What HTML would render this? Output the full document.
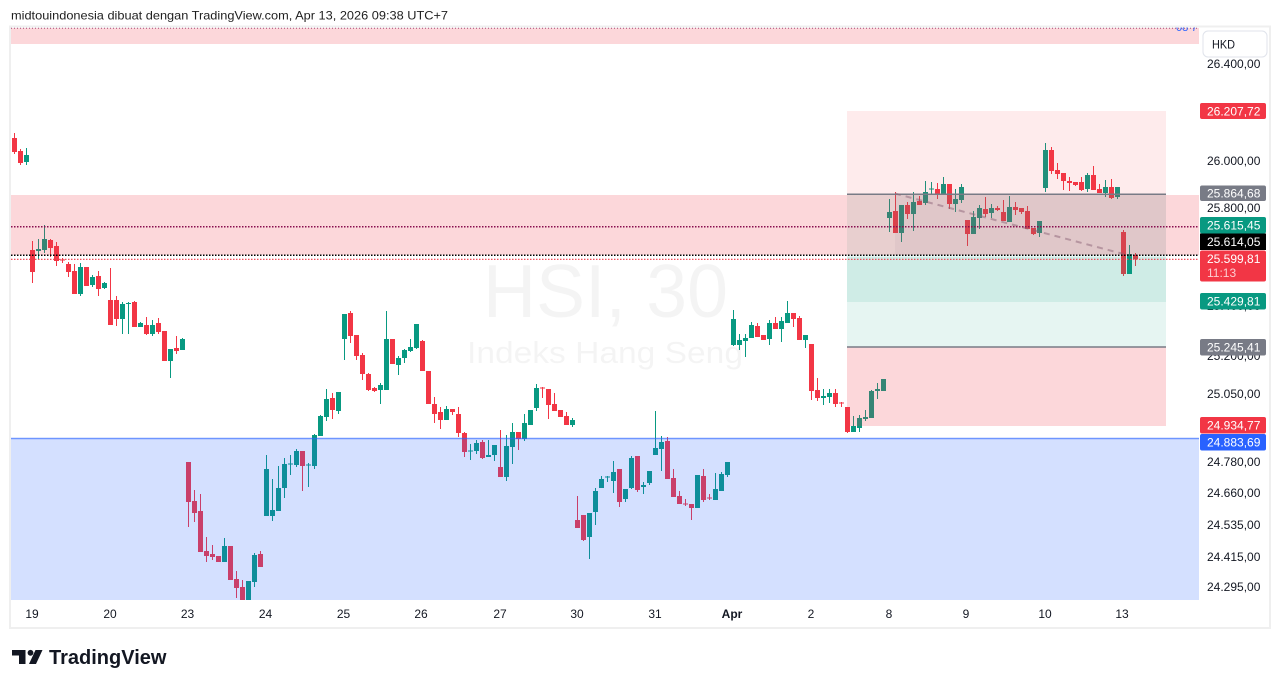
<!DOCTYPE html>
<html><head><meta charset="utf-8"><style>
html,body{margin:0;padding:0;background:#fff;}
svg{display:block;}
text{font-family:"Liberation Sans",Arial,sans-serif;}
</style></head><body>
<svg width="1281" height="688" viewBox="0 0 1281 688" xmlns="http://www.w3.org/2000/svg">
<defs>
<clipPath id="plot"><rect x="11" y="27.5" width="1188" height="572.5"/></clipPath>
<clipPath id="topclip"><rect x="1100" y="26.5" width="99" height="20"/></clipPath>
</defs>
<rect width="1281" height="688" fill="#fff"/>
<text x="11" y="19.5" font-size="12" fill="#1e1e1e" textLength="437" lengthAdjust="spacingAndGlyphs">midtouindonesia dibuat dengan TradingView.com, Apr 13, 2026 09:38 UTC+7</text>

<g clip-path="url(#plot)">
<!-- watermark -->
<text x="483" y="317" font-size="75" fill="#000" fill-opacity="0.045" textLength="245" lengthAdjust="spacingAndGlyphs">HSI, 30</text>
<text x="467" y="363" font-size="31" fill="#000" fill-opacity="0.045" textLength="276" lengthAdjust="spacingAndGlyphs">Indeks Hang Seng</text>

<!-- green wicks -->
<path fill="none" stroke="#089981" stroke-width="1" d="M8.5 139V147M26.5 148V165M38.5 239V259M44.5 225V253M80.5 263V296M92.5 275V287M104.5 282V289M122.5 302V334M128.5 302V334M140.5 322V327M152.5 320V336M170.5 349V378M182.5 338V350M224.5 538V562M248.5 581V600M254.5 553V587M266.5 455V516M272.5 479V521M278.5 466V511M284.5 458V498M290.5 455V475M296.5 449V467M308.5 463V487M314.5 434V469M320.5 415V436M326.5 389V421M338.5 392V414M344.5 314V360M380.5 383V404M386.5 311V390M398.5 356V375M404.5 349V363M410.5 339V352M416.5 324V349M446.5 406V420M470.5 444V460M476.5 440V454M488.5 440V457M494.5 445V461M506.5 435V481M512.5 423V464M524.5 414V441M530.5 410V425M536.5 384V411M572.5 418V427M589.5 513V559M595.5 488V525M601.5 476V488M607.5 476V482M613.5 461V493M625.5 489V502M631.5 456V489M643.5 482V494M649.5 471V485M655.5 411V455M661.5 436V471M697.5 475V508M715.5 473V500M721.5 472V491M727.5 462V477M733.5 310V346M739.5 334V350M745.5 334V357M751.5 322V338M769.5 320V345M781.5 317V342M787.5 301V323M805.5 335V348M823.5 389V405M829.5 389V403M853.5 416V432M859.5 415V432M865.5 410V421M871.5 390V418M877.5 383V399M883.5 379V391M889.5 199V232M901.5 205V242M913.5 192V231M925.5 181V205M931.5 182V194M943.5 177V194M955.5 189V212M961.5 184V203M973.5 211V234M979.5 205V229M991.5 204V218M1009.5 196V222M1039.5 221V237M1045.5 143V192M1087.5 173V192M1105.5 180V197M1117.5 187V199M1129.5 245V274"/>
<!-- green bodies -->
<path fill="#089981" d="M6 139h5V147h-5zM24 155h5V162h-5zM36 249h5V251h-5zM42 239h5V250h-5zM78 267h5V294h-5zM90 277h5V285h-5zM102 283h5V288h-5zM120 304h5V319h-5zM126 303h5V304h-5zM138 323h5V327h-5zM150 325h5V334h-5zM168 349h5V361h-5zM180 339h5V350h-5zM222 546h5V562h-5zM246 581h5V600h-5zM252 555h5V582h-5zM264 469h5V516h-5zM270 510h5V516h-5zM276 488h5V511h-5zM282 464h5V488h-5zM288 463.5h5V464.5h-5zM294 451h5V465h-5zM306 464.5h5V465.5h-5zM312 435h5V466h-5zM318 416h5V436h-5zM324 399h5V417h-5zM336 392h5V411h-5zM342 314h5V339h-5zM378 385h5V390h-5zM384 339h5V390h-5zM396 358h5V365h-5zM402 350h5V358h-5zM408 347h5V351h-5zM414 324h5V348h-5zM444 409h5V420h-5zM468 450.5h5V451.5h-5zM474 443h5V451h-5zM486 455h5V457h-5zM492 445h5V455h-5zM504 446h5V477h-5zM510 432h5V447h-5zM522 423h5V439h-5zM528 410h5V425h-5zM534 388h5V408h-5zM570 420h5V425h-5zM587 513h5V537h-5zM593 491h5V512h-5zM599 479h5V488h-5zM605 476.5h5V477.5h-5zM611 472h5V481h-5zM623 489h5V499h-5zM629 458h5V488h-5zM641 485h5V487h-5zM647 471h5V483h-5zM653 448h5V455h-5zM659 442h5V449h-5zM695 475h5V508h-5zM713 489h5V500h-5zM719 474h5V491h-5zM725 462h5V475h-5zM731 319h5V345h-5zM737 340h5V345h-5zM743 338h5V341h-5zM749 325h5V338h-5zM767 323h5V339h-5zM779 321h5V329h-5zM785 313h5V323h-5zM803 335h5V340h-5zM821 396h5V398h-5zM827 393h5V397h-5zM851 426h5V432h-5zM857 418h5V428h-5zM863 417h5V419h-5zM869 391h5V418h-5zM875 389h5V391h-5zM881 379h5V391h-5zM887 212h5V218h-5zM899 205h5V233h-5zM911 202h5V214h-5zM923 192h5V203h-5zM929 188.5h5V189.5h-5zM941 184h5V194h-5zM953 199h5V204h-5zM959 187h5V200h-5zM971 217h5V234h-5zM977 208h5V218h-5zM989 208h5V213h-5zM1007 207h5V222h-5zM1037 221h5V233h-5zM1043 150h5V188h-5zM1085 175h5V189h-5zM1103 187h5V193h-5zM1115 187h5V197h-5zM1127 254h5V274h-5z"/>
<!-- red wicks -->
<path fill="none" stroke="#f23645" stroke-width="1" d="M14.5 133V154M20.5 149V165M32.5 241V283M50.5 239V257M56.5 242V266M62.5 258V263M68.5 262V277M74.5 264V294M86.5 267V286M98.5 271V296M110.5 268V325M116.5 296V326M134.5 301V327M146.5 317V335M158.5 318V334M164.5 331V361M176.5 336V354M188.5 462V527M194.5 490V522M200.5 494V552M206.5 537V562M212.5 545V560M218.5 556V562M230.5 546V580M236.5 571V598M242.5 580V600M260.5 551V567M302.5 451V491M332.5 393V419M350.5 311V343M356.5 335V360M362.5 353V380M368.5 373V391M374.5 387V392M392.5 339V364M422.5 340V371M428.5 371V404M434.5 397V423M440.5 407V429M452.5 409V415M458.5 407V437M464.5 432V457M482.5 440V459M500.5 430V477M518.5 432V450M542.5 387V398M548.5 389V419M554.5 393V411M560.5 410V417M566.5 412V425M577.5 496V528M583.5 515V541M619.5 469V507M637.5 456V492M667.5 437V479M673.5 469V497M679.5 491V504M685.5 499V506M691.5 504V520M703.5 469V502M709.5 494V500M757.5 323V337M763.5 335V340M775.5 317V329M793.5 313V327M799.5 316V340M811.5 344V400M817.5 378V401M835.5 389V407M841.5 402V407M847.5 407V433M895.5 192V233M907.5 202V219M919.5 196V205M937.5 183V199M949.5 184V209M967.5 220V246M985.5 197V217M997.5 206V211M1003.5 200V221M1015.5 202V215M1021.5 208V214M1027.5 206V229M1033.5 228V235M1051.5 147V174M1057.5 163V179M1063.5 173V190M1069.5 177V191M1075.5 182V186M1081.5 177V191M1093.5 166V190M1099.5 184V193M1111.5 179V199M1123.5 230V276M1135.5 253V266"/>
<!-- red bodies -->
<path fill="#f23645" d="M12 138h5V152h-5zM18 151h5V163h-5zM30 250h5V272h-5zM48 240h5V248h-5zM54 246h5V261h-5zM60 259.5h5V260.5h-5zM66 264h5V272h-5zM72 271h5V294h-5zM84 267h5V286h-5zM96 276h5V289h-5zM108 300h5V325h-5zM114 300h5V319h-5zM132 302h5V327h-5zM144 325h5V334h-5zM156 323h5V332h-5zM162 331h5V361h-5zM174 348h5V351h-5zM186 462h5V502h-5zM192 501h5V513h-5zM198 511h5V552h-5zM204 551h5V556h-5zM210 554h5V557h-5zM216 556h5V562h-5zM228 546h5V580h-5zM234 579h5V588h-5zM240 587h5V600h-5zM258 554h5V567h-5zM300 451h5V466h-5zM330 398h5V410h-5zM348 313h5V336h-5zM354 335h5V356h-5zM360 355h5V374h-5zM366 374h5V390h-5zM372 388h5V391h-5zM390 339h5V364h-5zM420 341h5V371h-5zM426 371h5V404h-5zM432 404h5V414h-5zM438 412h5V420h-5zM450 409h5V412h-5zM456 414h5V433h-5zM462 433h5V452h-5zM480 442h5V458h-5zM498 467h5V477h-5zM516 432h5V439h-5zM540 387.5h5V388.5h-5zM546 389h5V405h-5zM552 404h5V411h-5zM558 410h5V417h-5zM564 416h5V425h-5zM575 520h5V528h-5zM581 515h5V540h-5zM617 469h5V502h-5zM635 456h5V490h-5zM665 441h5V479h-5zM671 478h5V497h-5zM677 496h5V504h-5zM683 503.5h5V504.5h-5zM689 504h5V508h-5zM701 476h5V500h-5zM707 497.5h5V498.5h-5zM755 326h5V337h-5zM761 335h5V340h-5zM773 323h5V329h-5zM791 313h5V319h-5zM797 318h5V340h-5zM809 344h5V391h-5zM815 390h5V398h-5zM833 393h5V404h-5zM839 402.5h5V403.5h-5zM845 407h5V432h-5zM893 211h5V233h-5zM905 205h5V214h-5zM917 201h5V205h-5zM935 189h5V194h-5zM947 184h5V204h-5zM965 220h5V234h-5zM983 209h5V214h-5zM995 208h5V210h-5zM1001 212h5V221h-5zM1013 207h5V210h-5zM1019 208h5V212h-5zM1025 211h5V229h-5zM1031 228h5V234h-5zM1049 150h5V171h-5zM1055 170h5V174h-5zM1061 173h5V181h-5zM1067 181h5V183h-5zM1073 182h5V185h-5zM1079 182h5V190h-5zM1091 175h5V190h-5zM1097 189h5V193h-5zM1109 187h5V198h-5zM1121 232h5V274h-5zM1133 255h5V259h-5z"/>

<!-- position tools -->
<rect x="847" y="111" width="319" height="83" fill="#f23645" fill-opacity="0.1"/>
<rect x="847" y="194" width="319" height="108" fill="#089981" fill-opacity="0.1"/>
<rect x="847" y="257" width="319" height="90" fill="#089981" fill-opacity="0.1"/>
<rect x="895" y="194" width="271" height="61" fill="#787b86" fill-opacity="0.08"/>
<rect x="847" y="347" width="319" height="79" fill="#f23645" fill-opacity="0.2"/>

<!-- pink bands -->
<rect x="11" y="28" width="1188" height="16" fill="#f23645" fill-opacity="0.2"/>
<rect x="11" y="195" width="1188" height="60" fill="#f23645" fill-opacity="0.2"/>
<!-- blue zone -->
<rect x="11" y="438" width="1188" height="162" fill="#2962ff" fill-opacity="0.2"/>
<path d="M11 438.5H1199" stroke="#2962ff" stroke-opacity="0.6" stroke-width="1.5"/>

<!-- position lines -->
<path d="M847 194.3H1166M847 347H1166" stroke="#787b86" stroke-width="1.5"/>
<!-- trend line -->
<path d="M895 193.5L1131 256" stroke="#8c6478" stroke-opacity="0.5" stroke-width="2" stroke-dasharray="6 5"/>
<!-- dotted lines -->
<path d="M11 28.3H1199" stroke="#880e4f" stroke-opacity="0.7" stroke-width="1" stroke-dasharray="1 2"/>
<path d="M11 226.7H1199" stroke="#880e4f" stroke-width="1.5" stroke-dasharray="1.5 1.5"/>
<path d="M11 255.3H1199" stroke="#000" stroke-width="1.5" stroke-dasharray="1.5 1.5"/>
<path d="M11 259.3H1199" stroke="#f23645" stroke-width="1.2" stroke-dasharray="1.5 1.5"/>
</g>

<text x="1176" y="31" font-size="11" fill="#2962ff" clip-path="url(#topclip)">08 7</text>

<!-- frame -->
<rect x="10" y="26.5" width="1260" height="601.5" fill="none" stroke="#efefef" stroke-width="2"/>

<!-- time axis -->
<g font-size="12" fill="#131722" text-anchor="middle">
<text x="32" y="618">19</text>
<text x="110" y="618">20</text>
<text x="187.5" y="618">23</text>
<text x="265.5" y="618">24</text>
<text x="343.5" y="618">25</text>
<text x="421" y="618">26</text>
<text x="500" y="618">27</text>
<text x="577" y="618">30</text>
<text x="655" y="618">31</text>
<text x="732" y="618" font-weight="bold">Apr</text>
<text x="811" y="618">2</text>
<text x="889" y="618">8</text>
<text x="966" y="618">9</text>
<text x="1045" y="618">10</text>
<text x="1122" y="618">13</text>
</g>

<!-- price axis -->
<rect x="1203" y="31" width="64" height="26" rx="5" fill="#fff" stroke="#e0e3eb"/>
<text x="1212" y="48.5" font-size="12" fill="#131722" textLength="23" lengthAdjust="spacingAndGlyphs">HKD</text>
<g font-size="12" fill="#131722">
<text x="1207" y="68">26.400,00</text>
<text x="1207" y="165">26.000,00</text>
<text x="1207" y="212">25.800,00</text>
<text x="1207" y="310">25.400,00</text>
<text x="1207" y="360">25.200,00</text>
<text x="1207" y="398">25.050,00</text>
<text x="1207" y="466">24.780,00</text>
<text x="1207" y="497">24.660,00</text>
<text x="1207" y="529">24.535,00</text>
<text x="1207" y="561">24.415,00</text>
<text x="1207" y="591">24.295,00</text>
</g>
<rect x="1200" y="103" width="66" height="16" rx="2" fill="#f23645"/>
<rect x="1200" y="185.5" width="66" height="15.5" rx="2" fill="#787b86"/>
<rect x="1200" y="217" width="66" height="16.5" rx="2" fill="#089981"/>
<rect x="1200" y="233.5" width="66" height="16.5" fill="#000"/>
<rect x="1200" y="250.5" width="66" height="31" rx="2" fill="#f23645"/>
<rect x="1200" y="293" width="66" height="16.5" rx="2" fill="#089981"/>
<rect x="1200" y="339" width="66" height="16.5" rx="2" fill="#787b86"/>
<rect x="1200" y="417" width="66" height="16.5" rx="2" fill="#f23645"/>
<rect x="1200" y="434" width="66" height="16.5" rx="2" fill="#2962ff"/>
<g font-size="12" fill="#fff">
<text x="1207" y="115.5">26.207,72</text>
<text x="1207" y="197.5">25.864,68</text>
<text x="1207" y="229.5">25.615,45</text>
<text x="1207" y="246">25.614,05</text>
<text x="1207" y="263">25.599,81</text>
<text x="1207" y="277" fill-opacity="0.75">11:13</text>
<text x="1207" y="305.5">25.429,81</text>
<text x="1207" y="351.5">25.245,41</text>
<text x="1207" y="429.5">24.934,77</text>
<text x="1207" y="446.5">24.883,69</text>
</g>

<!-- TradingView logo -->
<g fill="#131722">
<path d="M12 650H25.5V664H19V655.5H12Z"/>
<circle cx="30.5" cy="652.8" r="2.9"/>
<path d="M35.5 650H42.5L36 664H29Z"/>
<text x="49" y="664" font-size="20" font-weight="bold">TradingView</text>
</g>
</svg>
</body></html>
